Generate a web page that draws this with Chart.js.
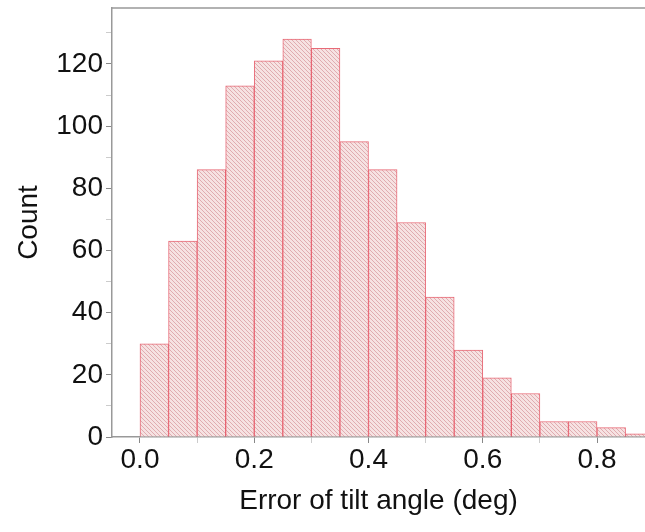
<!DOCTYPE html>
<html>
<head>
<meta charset="utf-8">
<script src="https://cdn.jsdelivr.net/npm/chart.js@4.4.1/dist/chart.umd.min.js"></script>
<style>
html, body { margin: 0; padding: 0; background: #fff; }
#wrap { width: 645px; height: 532px; }
</style>
</head>
<body>
<div id="wrap"><canvas id="myChart"></canvas></div>
<script>
// histogram bins (left edge) and counts
const binStarts = [0.00, 0.05, 0.10, 0.15, 0.20, 0.25, 0.30, 0.35, 0.40, 0.45, 0.50, 0.55, 0.60, 0.65, 0.70, 0.75, 0.80, 0.85];
const counts = [30, 63, 86, 113, 121, 128, 125, 95, 86, 69, 45, 28, 19, 14, 5, 5, 3, 1];
const binWidth = 0.05;
const xTitle = 'Error of tilt angle (deg)';
const yTitle = 'Count';

const points = binStarts.map((s, i) => ({ x: s + binWidth / 2, y: counts[i] }));

// hatched fill
function makeHatch() {
    const c = document.createElement('canvas');
    c.width = 4;
    c.height = 4;
    const g = c.getContext('2d');
    g.fillStyle = '#f6e2e2';
    g.fillRect(0, 0, 4, 4);
    g.strokeStyle = '#e0acb0';
    g.lineWidth = 1;
    g.beginPath();
    g.moveTo(-1, -1); g.lineTo(5, 5);
    g.moveTo(-1, 3); g.lineTo(1, 5);
    g.moveTo(3, -1); g.lineTo(5, 1);
    g.stroke();
    return g.createPattern(c, 'repeat');
}

function isMajorX(v) {
    return Math.round(v * 10) % 2 === 0;
}

const topBorder = {
    id: 'topBorder',
    afterDraw(chart) {
        const a = chart.chartArea;
        const ctx = chart.ctx;
        ctx.save();
        ctx.strokeStyle = '#999';
        ctx.lineWidth = 1.5;
        ctx.beginPath();
        ctx.moveTo(a.left, a.top);
        ctx.lineTo(a.right + 1, a.top);
        ctx.stroke();
        ctx.restore();
    }
};

Chart.defaults.font.family = '"Liberation Sans", Arial, sans-serif';
Chart.defaults.color = '#111';

const ctx = document.getElementById('myChart');

new Chart(ctx, {
    type: 'bar',
    data: {
        datasets: [{
            data: points,
            backgroundColor: makeHatch(),
            borderColor: 'rgba(228, 80, 95, 0.85)',
            borderWidth: 1,
            barPercentage: 1,
            categoryPercentage: 1
        }]
    },
    options: {
        responsive: true,
        maintainAspectRatio: false,
        animation: false,
        layout: { padding: { top: 8, right: 0, left: 0, bottom: 0 } },
        plugins: {
            legend: { display: false },
            tooltip: { enabled: false }
        },
        scales: {
            x: {
                type: 'linear',
                offset: false,
                min: -0.049,
                max: 0.884,
                afterFit: (scale) => {
                    scale.height = 95;
                    scale.paddingLeft = 0;
                    scale.paddingRight = 0;
                },
                border: { color: '#999', width: 1.5 },
                grid: {
                    offset: false,
                    drawOnChartArea: false,
                    tickLength: 6,
                    tickColor: (c) => (c.tick && !isMajorX(c.tick.value)) ? '#ccc' : '#888'
                },
                ticks: {
                    stepSize: 0.1,
                    includeBounds: false,
                    maxRotation: 0,
                    autoSkip: false,
                    padding: 0,
                    font: { size: 28 },
                    callback: (v) => isMajorX(v) ? (Math.round(v * 10) / 10).toFixed(1) : ''
                },
                title: {
                    display: true,
                    text: xTitle,
                    font: { size: 28 },
                    padding: { top: 0, bottom: 14 }
                }
            },
            y: {
                min: 0,
                max: 138,
                afterFit: (scale) => {
                    scale.width = 112;
                    scale.paddingTop = 0;
                    scale.paddingBottom = 0;
                },
                border: { color: '#999', width: 1.5 },
                grid: {
                    drawOnChartArea: false,
                    tickLength: 6,
                    tickColor: (c) => (c.tick && c.tick.value % 20 !== 0) ? '#ccc' : '#888'
                },
                ticks: {
                    stepSize: 10,
                    includeBounds: false,
                    autoSkip: false,
                    padding: 3,
                    font: { size: 28 },
                    callback: (v) => v % 20 === 0 ? v : ''
                },
                title: {
                    display: true,
                    text: yTitle,
                    font: { size: 28 },
                    padding: { top: 12, bottom: 0 }
                }
            }
        }
    },
    plugins: [topBorder]
});
</script>
</body>
</html>
